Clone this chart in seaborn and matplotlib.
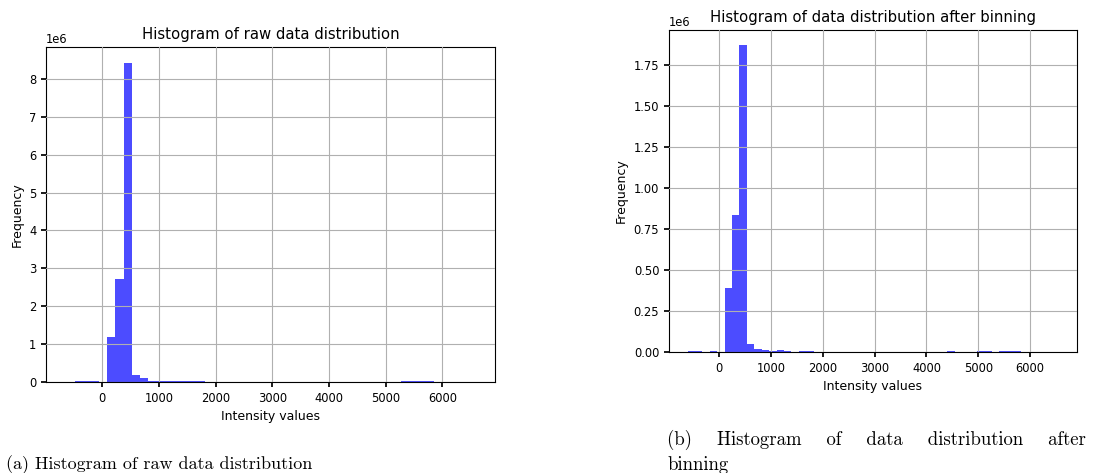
import matplotlib
matplotlib.use("Agg")
import matplotlib.pyplot as plt
import numpy as np
import pandas as pd
import seaborn as sns

# 50 equal-width bins per panel, counts (in millions)
RAW_RANGE = (-633, 6566)
RAW_COUNTS = [
    0, 0.03, 0.03, 0.03, 0, 1.2, 2.72, 8.42, 0.19, 0.097,
    0.02, 0.02, 0.02, 0.02, 0.02, 0.02, 0.02, 0, 0, 0,
    0, 0, 0, 0, 0, 0, 0, 0, 0, 0,
    0, 0, 0, 0, 0, 0, 0, 0, 0, 0,
    0, 0.02, 0.02, 0.02, 0.02, 0, 0, 0, 0, 0.001,
]

BINNED_RANGE = (-613, 6547)
BINNED_COUNTS = [
    0.004, 0.004, 0, 0.004, 0, 0.387, 0.834, 1.868, 0.047, 0.016,
    0.010, 0.004, 0.010, 0.004, 0, 0.004, 0.004, 0, 0, 0,
    0, 0, 0, 0, 0, 0, 0, 0, 0, 0,
    0, 0, 0, 0, 0, 0.004, 0, 0, 0, 0.004,
    0.004, 0, 0.004, 0.004, 0.004, 0, 0, 0, 0, 0.0005,
]

N_BINS = 50
TITLES = ["Histogram of raw data distribution", "Histogram of data distribution after binning"]
CAPTION_A = "(a) Histogram of raw data distribution"
# second caption is justified in the source, so its first line has wide word gaps
CAPTION_B = ["(b)", "Histogram", "of", "data", "distribution", "after"]
CAPTION_B_TAIL = "binning"


def bin_table(rng, counts):
    edges = np.linspace(rng[0], rng[1], N_BINS + 1)
    centers = (edges[:-1] + edges[1:]) / 2
    return pd.DataFrame({"value": centers, "count": np.array(counts) * 1e6})


def draw(ax, df, rng, title):
    sns.histplot(data=df, x="value", weights="count", bins=N_BINS, binrange=rng,
                 color="blue", alpha=0.7, linewidth=0, ax=ax)
    ax.grid(True, color="#b0b0b0", linewidth=0.8)
    ax.set_axisbelow(False)
    ax.set_title(title, fontsize=10.7)
    ax.set_xlabel("Intensity values", fontsize=9)
    ax.set_ylabel("Frequency", fontsize=9)
    ax.tick_params(labelsize=8.3, length=3.5, colors="black")
    ax.yaxis.get_offset_text().set_fontsize(8.3)
    for s in ax.spines.values():
        s.set_visible(True)
        s.set_color("black")
        s.set_linewidth(0.8)


def main() -> None:
    sns.set_theme(style="ticks")
    plt.rcParams["font.family"] = ["DejaVu Sans"]
    plt.rcParams.update({"text.color": "black", "axes.labelcolor": "black"})
    fig = plt.figure(figsize=(11.12, 4.73), dpi=100)
    ax1 = fig.add_axes([0.0414, 0.1924, 0.4036, 0.7082])
    ax2 = fig.add_axes([0.6016, 0.2558, 0.3669, 0.6808])

    draw(ax1, bin_table(RAW_RANGE, RAW_COUNTS), RAW_RANGE, TITLES[0])
    draw(ax2, bin_table(BINNED_RANGE, BINNED_COUNTS), BINNED_RANGE, TITLES[1])
    ax2.set_yticks(np.arange(0, 2.0e6, 0.25e6))

    fig.text(0.005, 0.017, CAPTION_A, fontsize=13, family="cmr10", va="center")
    caption_b = "    ".join(CAPTION_B) + "\n" + CAPTION_B_TAIL
    fig.text(0.6, 0.045, caption_b, fontsize=13.5, family="cmr10", va="center",
             linespacing=1.4)

    fig.savefig("out.png", dpi=100)
    plt.close(fig)


if __name__ == "__main__":
    main()
